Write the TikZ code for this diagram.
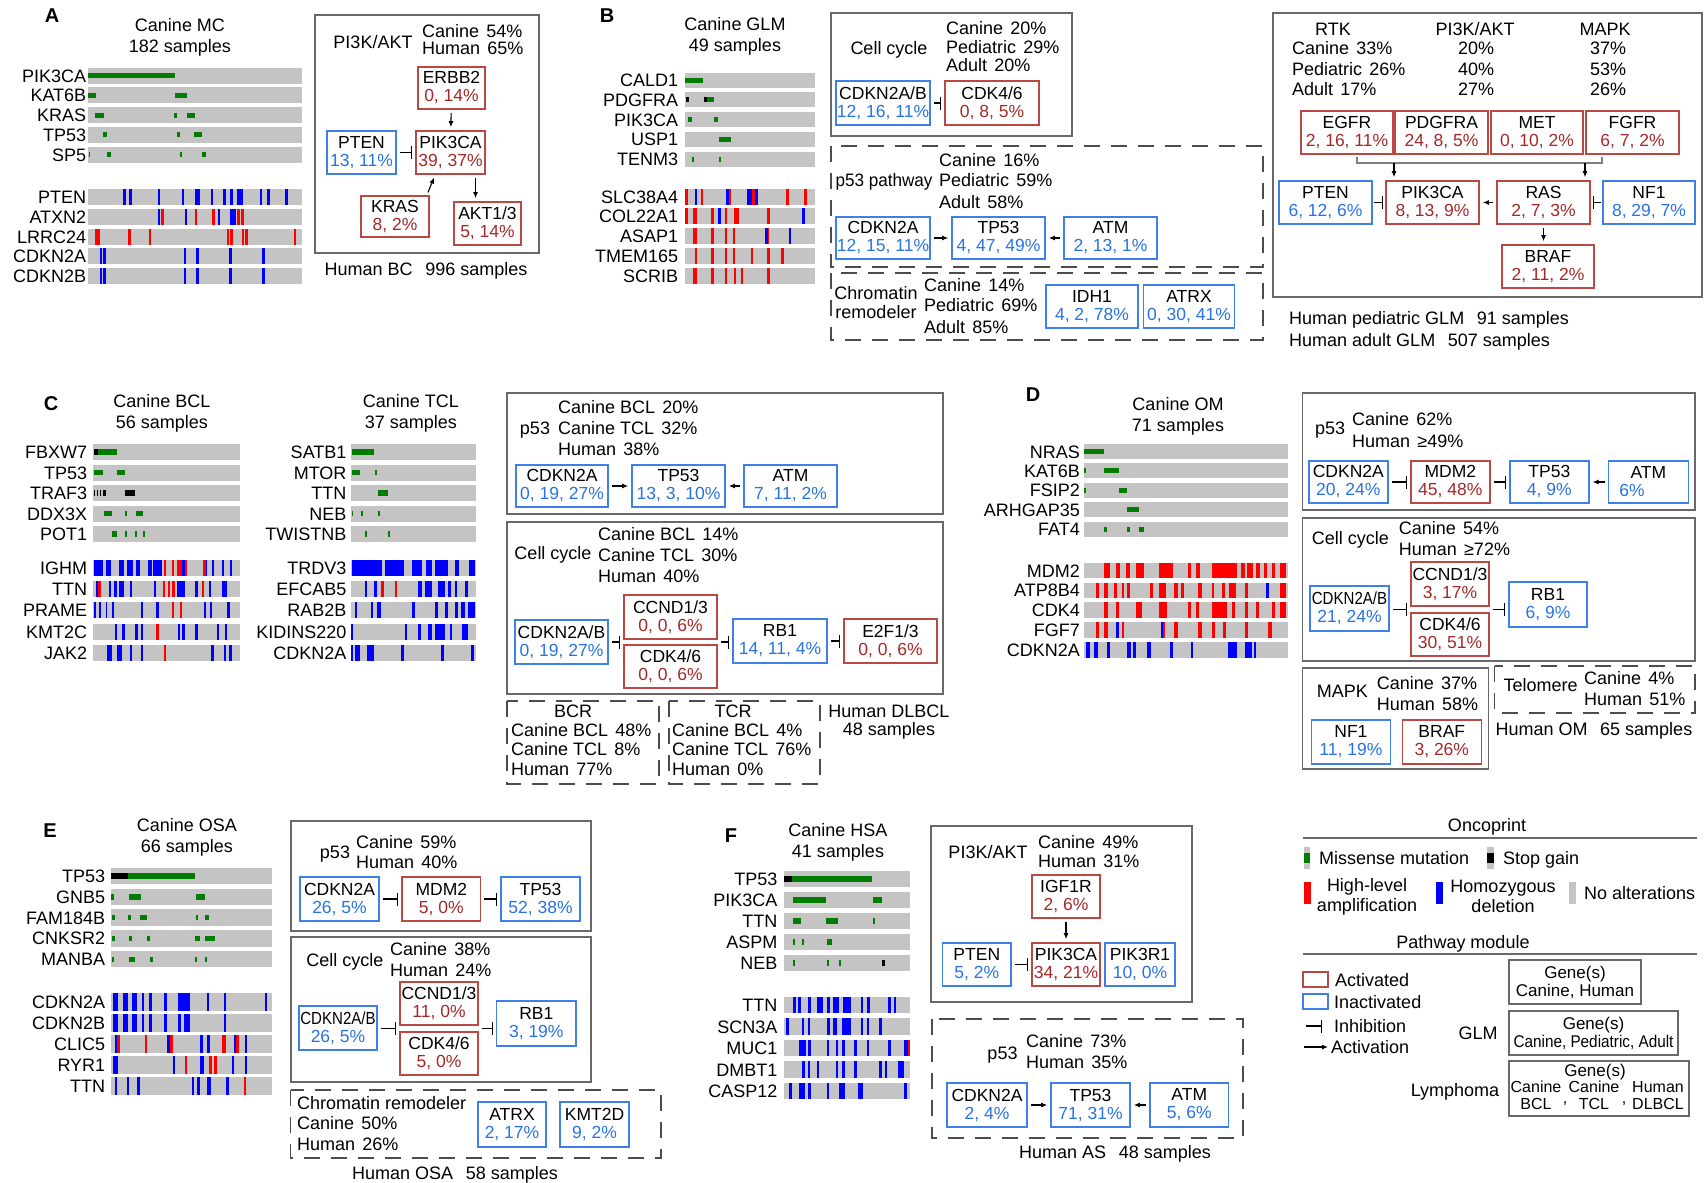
\documentclass[tikz,border=0pt]{standalone}
\usepackage{fontspec}
\setmainfont{Liberation Sans}
\usepackage{graphicx}
\usetikzlibrary{calc,arrows.meta}
\definecolor{actred}{RGB}{188,72,68}
\definecolor{acttext}{RGB}{165,40,40}
\definecolor{inblue}{RGB}{62,128,232}
\definecolor{inatext}{RGB}{40,115,228}
\definecolor{noalt}{RGB}{196,196,196}
\definecolor{misgreen}{RGB}{0,125,0}
\definecolor{framegray}{RGB}{105,105,105}
\newcommand{\actnum}[1]{\textcolor{acttext}{#1}}
\newcommand{\inanum}[1]{\textcolor{inatext}{#1}}
\newcommand{\pcgap}{\hspace{0.4em}}
\newcommand{\smpgap}{\hspace{0.7em}}
\tikzset{
	% text
	txt/.style={inner sep=0pt, text height=13pt, text depth=0pt, font=\fontsize{18}{20}\selectfont},
	stat/.style={txt, anchor=west},
	gene label/.style={txt, anchor=east},
	heading/.style={inner sep=0pt, align=center, font=\fontsize{18}{21}\selectfont},
	panel tag/.style={inner sep=0pt, font=\fontsize{20}{22}\selectfont\bfseries},
	% oncoprint cells
	no alt/.style={fill=noalt},
	mis/.style={fill=misgreen},
	stp/.style={fill=black},
	amp/.style={fill=red},
	del/.style={fill=blue},
	% pathway modules
	module/.style={draw=framegray, line width=1.4pt},
	module dashed/.style={draw=black!70, line width=1.4pt, dash pattern=on 16pt off 11pt},
	gene box/.style={line width=1.6pt, align=center, inner sep=0pt, font=\fontsize{17.5}{18}\selectfont},
	act/.style={gene box, draw=actred},
	inact/.style={gene box, draw=inblue},
	legend box/.style={gene box, draw=framegray, line width=1.2pt, font=\fontsize{17}{18}\selectfont},
	box size/.style 2 args={minimum width=#1, minimum height=#2},
	activ/.style={-{Latex[length=6pt,width=5pt]}, line width=1.1pt, shorten <=3pt, shorten >=3pt},
	inhib/.style={-{Bar[width=13pt]}, line width=1.1pt, shorten <=3pt, shorten >=3pt},
}
\begin{document}
\begin{tikzpicture}[x=1pt,y=-1pt]
	\useasboundingbox (0,0) rectangle (1705,1183);
	\fill[white] (0,0) rectangle (1705,1183);

	% ---------------- A: canine MC ----------------
	\node[panel tag] (a-tag) at (52,16) {A};
	\node[heading] (a-title) at (180,37.5) {Canine MC\\182 samples};
	\begin{scope}[x=0.3571pt]
		\foreach \g [count=\i from 0] in {PIK3CA,KAT6B,KRAS,TP53,SP5}{
			\fill[no alt] (247,67.5+19.8*\i) rectangle (845,83.5+19.8*\i);
			\node[gene label] (a-mut\i) at (242,75.5+19.8*\i) {\g};
		}
		\foreach \g [count=\i from 0] in {PTEN,ATXN2,LRRC24,CDKN2A,CDKN2B}{
			\fill[no alt] (247,189+19.8*\i) rectangle (845,205+19.8*\i);
			\node[gene label] (a-cnv\i) at (242,197+19.8*\i) {\g};
		}
		\foreach \rw/\marks in {0/{247/490/mis},1/{247/268/mis,490/525/mis},2/{265/290/mis,487/495/mis,525/545/mis},
			3/{288/300/mis,495/503/mis,543/565/mis},4/{250/253/mis,300/310/mis,503/510/mis,565/578/mis}}
			\foreach \xa/\xb/\kind in \marks
				\fill[\kind] (\xa,73+19.8*\rw) rectangle (\xb,78+19.8*\rw);
		\foreach \rw/\marks in {0/{345/352/del,362/369/del,442/449/del,509/516/del,545/552/del,552/559/del,590/597/del,625/632/del,645/652/del,665/672/del,673/680/del,727/734/del,749/756/del,797/806/del},
			1/{442/449/del,452/459/amp,517/524/del,545/552/amp,595/602/amp,610/617/del,645/652/del,653/660/del,665/672/amp,675/682/amp},
			2/{265/272/amp,273/280/amp,359/366/amp,417/424/amp,635/642/amp,645/652/amp,677/684/amp,687/694/amp,822/830/amp},
			3/{280/287/del,289/296/del,514/521/del,550/557/del,642/649/del,735/742/del},
			4/{280/287/del,289/296/del,514/521/del,550/557/del,642/649/del,735/742/del}}
			\foreach \xa/\xb/\kind in \marks
				\fill[\kind] (\xa,189+19.8*\rw) rectangle (\xb,205+19.8*\rw);
	\end{scope}
	\draw[module] (315,15) rectangle (539,253);
	\node[txt] (a-path) at (373,42) {PI3K/AKT};
	\node[stat] (a-st1) at (422,31) {Canine\pcgap 54\%};
	\node[stat] (a-st2) at (422,48) {Human\pcgap 65\%};
	\node[act, box size={67}{42}] (a-erbb2) at (451.5,88) {ERBB2\\\actnum{0, 14\%}};
	\node[inact, box size={69}{43}] (a-pten) at (361.5,152.5) {PTEN\\\inanum{13, 11\%}};
	\node[act, box size={69}{43}] (a-pik3ca) at (450.5,152.5) {PIK3CA\\\actnum{39, 37\%}};
	\node[act, box size={68}{41}] (a-kras) at (395,216.5) {KRAS\\\actnum{8, 2\%}};
	\node[act, box size={67}{43}] (a-akt) at (487.5,223.5) {AKT1/3\\\actnum{5, 14\%}};
	\draw[activ] (a-erbb2) -- (a-pik3ca);
	\draw[inhib] (a-pten) -- (a-pik3ca);
	\draw[activ] ([xshift=-3pt]a-kras.north east) -- ([xshift=20pt]a-pik3ca.south west);
	\draw[activ] ([xshift=25pt]a-pik3ca.south) -- ([xshift=25pt]a-pik3ca.south |- a-akt.north);
	\node[txt] (a-human) at (426,269) {Human BC\smpgap 996 samples};

	% ---------------- B: canine GLM ----------------
	\node[panel tag] (b-tag) at (607,16) {B};
	\node[heading] (b-title) at (735,36) {Canine GLM\\49 samples};
	\begin{scope}[xshift=560pt, x=0.4464pt]
		\foreach \g [count=\i from 0] in {CALD1,PDGFRA,PIK3CA,USP1,TENM3}{
			\fill[no alt] (280,72.5+19.8*\i) rectangle (572,87.5+19.8*\i);
			\node[gene label] (b-mut\i) at (265,80+19.8*\i) {\g};
		}
		\foreach \g [count=\i from 0] in {SLC38A4,COL22A1,ASAP1,TMEM165,SCRIB}{
			\fill[no alt] (280,188.5+19.8*\i) rectangle (572,204.5+19.8*\i);
			\node[gene label] (b-cnv\i) at (265,196.5+19.8*\i) {\g};
		}
		\foreach \rw/\marks in {0/{280/320/mis},1/{283/290/stp,322/330/stp,330/345/mis},2/{287/295/mis,345/355/mis},
			3/{357/382/mis},4/{296/300/mis,357/361/mis}}
			\foreach \xa/\xb/\kind in \marks
				\fill[\kind] (\xa,77.5+19.8*\rw) rectangle (\xb,82.5+19.8*\rw);
		\foreach \rw/\marks in {0/{280/286/amp,302/308/del,315/321/amp,372/378/del,378/382/amp,418/430/del,430/436/amp,437/443/del,507/513/amp,547/553/amp},
			1/{280/286/amp,297/307/amp,339/345/amp,355/361/del,369/375/amp,389/400/amp,464/470/amp,543/549/del},
			2/{297/307/amp,339/345/amp,369/375/amp,387/393/amp,459/465/del,465/469/amp,512/518/del},
			3/{302/308/amp,339/345/amp,369/375/amp,387/393/amp,427/433/amp,464/470/amp,495/501/amp},
			4/{297/307/amp,339/345/amp,369/375/amp,389/395/amp,405/411/amp,464/470/amp}}
			\foreach \xa/\xb/\kind in \marks
				\fill[\kind] (\xa,188.5+19.8*\rw) rectangle (\xb,204.5+19.8*\rw);
	\end{scope}
	% cell cycle
	\draw[module] (831,13) rectangle (1072,136);
	\node[txt] (b-cc) at (889,48) {Cell cycle};
	\node[stat] (b-cc1) at (946,28) {Canine\pcgap 20\%};
	\node[stat] (b-cc2) at (946,47) {Pediatric\pcgap 29\%};
	\node[stat] (b-cc3) at (946,65) {Adult\pcgap 20\%};
	\node[inact, box size={94}{44}] (b-cdkn2ab) at (883,103) {CDKN2A/B\\\inanum{12, 16, 11\%}};
	\node[act, box size={94}{44}] (b-cdk46) at (992,103) {CDK4/6\\\actnum{0, 8, 5\%}};
	\draw[inhib] (b-cdkn2ab) -- (b-cdk46);
	% p53 pathway
	\draw[module dashed] (831,146) rectangle (1263,267);
	\node[txt] (b-p53) at (884,180) {\scalebox{0.95}[1]{p53 pathway}};
	\node[stat] (b-p1) at (939,160) {Canine\pcgap 16\%};
	\node[stat] (b-p2) at (939,180) {Pediatric\pcgap 59\%};
	\node[stat] (b-p3) at (939,202) {Adult\pcgap 58\%};
	\node[inact, box size={94}{42}] (b-cdkn2a) at (883,238) {CDKN2A\\\inanum{12, 15, 11\%}};
	\node[inact, box size={93}{42}] (b-tp53) at (998.5,238) {TP53\\\inanum{4, 47, 49\%}};
	\node[inact, box size={93}{42}] (b-atm) at (1110.5,238) {ATM\\\inanum{2, 13, 1\%}};
	\draw[activ] (b-cdkn2a) -- (b-tp53);
	\draw[activ] (b-atm) -- (b-tp53);
	% chromatin remodeler
	\draw[module dashed] (831,273) rectangle (1263,340);
	\node[heading, font=\fontsize{18}{19}\selectfont] (b-chr) at (876,302.5) {Chromatin\\remodeler};
	\node[stat] (b-c1) at (924,285) {Canine\pcgap 14\%};
	\node[stat] (b-c2) at (924,305) {Pediatric\pcgap 69\%};
	\node[stat] (b-c3) at (924,327) {Adult\pcgap 85\%};
	\node[inact, box size={92}{43}] (b-idh1) at (1092,306.5) {IDH1\\\inanum{4, 2, 78\%}};
	\node[inact, box size={91}{43}] (b-atrx) at (1189,306.5) {ATRX\\\inanum{0, 30, 41\%}};

	% GLM modules
	\draw[module] (1273,13) rectangle (1702,297);
	\node[txt] (g-rtk) at (1333,29) {RTK};
	\node[stat] (g-r1) at (1292,48) {Canine\pcgap 33\%};
	\node[stat] (g-r2) at (1292,69) {Pediatric\pcgap 26\%};
	\node[stat] (g-r3) at (1292,89) {Adult\pcgap 17\%};
	\node[txt] (g-pi3k) at (1475,29) {PI3K/AKT};
	\node[txt] (g-p1) at (1476,48) {20\%};
	\node[txt] (g-p2) at (1476,69) {40\%};
	\node[txt] (g-p3) at (1476,89) {27\%};
	\node[txt] (g-mapk) at (1605,29) {MAPK};
	\node[txt] (g-m1) at (1608,48) {37\%};
	\node[txt] (g-m2) at (1608,69) {53\%};
	\node[txt] (g-m3) at (1608,89) {26\%};
	\node[act, box size={92}{43}] (g-egfr) at (1347,132.5) {EGFR\\\actnum{2, 16, 11\%}};
	\node[act, box size={93}{43}] (g-pdgfra) at (1441.5,132.5) {PDGFRA\\\actnum{24, 8, 5\%}};
	\node[act, box size={92}{43}] (g-met) at (1537,132.5) {MET\\\actnum{0, 10, 2\%}};
	\node[act, box size={93}{43}] (g-fgfr) at (1632.5,132.5) {FGFR\\\actnum{6, 7, 2\%}};
	\node[inact, box size={93}{43}] (g-pten) at (1325.5,202.5) {PTEN\\\inanum{6, 12, 6\%}};
	\node[act, box size={93}{43}] (g-pik3ca) at (1432.5,202.5) {PIK3CA\\\actnum{8, 13, 9\%}};
	\node[act, box size={93}{43}] (g-ras) at (1543.5,202.5) {RAS\\\actnum{2, 7, 3\%}};
	\node[inact, box size={92}{43}] (g-nf1) at (1649,202.5) {NF1\\\inanum{8, 29, 7\%}};
	\node[act, box size={92}{43}] (g-braf) at (1548,266.5) {BRAF\\\actnum{2, 11, 2\%}};
	\coordinate (g-brl) at (1357,157);
	\coordinate (g-brr) at (1602,157);
	\coordinate (g-jl) at (1394,163);
	\coordinate (g-jr) at (1585,163);
	\draw[gray, line width=1.2pt] (g-brl) -- ++(0,6) -| (g-brr);
	\draw[activ, shorten <=0pt] (g-jl) -- (g-jl |- g-pik3ca.north);
	\draw[activ, shorten <=0pt] (g-jr) -- (g-jr |- g-ras.north);
	\draw[inhib, shorten <=1pt, shorten >=2pt] (g-pten) -- (g-pik3ca);
	\draw[activ] (g-ras) -- (g-pik3ca);
	\draw[inhib, shorten <=1pt, shorten >=2pt] (g-nf1) -- (g-ras);
	\draw[activ] (g-ras.south) -- (g-ras.south |- g-braf.north);
	\node[stat] (g-ped) at (1289,318) {Human pediatric GLM\smpgap 91 samples};
	\node[stat] (g-adu) at (1289,340) {Human adult GLM\smpgap 507 samples};

	% ---------------- C: canine lymphoma ----------------
	\node[panel tag] (c-tag) at (51,404) {C};
	\node[heading] (c-btitle) at (162,413.5) {Canine BCL\\56 samples};
	\node[heading] (c-ttitle) at (411,413.5) {Canine TCL\\37 samples};
	\begin{scope}[x=0.3333pt]
		\foreach \g [count=\i from 0] in {FBXW7,TP53,TRAF3,DDX3X,POT1}{
			\fill[no alt] (280,444+20.5*\i) rectangle (720,460+20.5*\i);
			\node[gene label] (c-bmut\i) at (262,452+20.5*\i) {\g};
		}
		\foreach \g [count=\i from 0] in {IGHM,TTN,PRAME,KMT2C,JAK2}{
			\fill[no alt] (280,560+21.2*\i) rectangle (720,576+21.2*\i);
			\node[gene label] (c-bcnv\i) at (262,568+21.2*\i) {\g};
		}
		\foreach \g [count=\i from 0] in {SATB1,MTOR,TTN,NEB,TWISTNB}{
			\fill[no alt] (1052,444+20.5*\i) rectangle (1427,460+20.5*\i);
			\node[gene label] (c-tmut\i) at (1040,452+20.5*\i) {\g};
		}
		\foreach \g [count=\i from 0] in {TRDV3,EFCAB5,RAB2B,KIDINS220,CDKN2A}{
			\fill[no alt] (1052,560+21.2*\i) rectangle (1427,576+21.2*\i);
			\node[gene label] (c-tcnv\i) at (1040,568+21.2*\i) {\g};
		}
		\foreach \rw/\marks in {0/{282/295/stp,295/350/mis},1/{282/310/mis,352/375/mis},
			2/{282/286/stp,291/295/stp,300/304/stp,310/318/stp,375/405/stp},
			3/{312/335/mis,375/381/mis,407/430/mis},4/{337/350/mis,375/380/mis,405/410/mis,430/435/mis},
			0/{1055/1122/mis},1/{1055/1080/mis,1125/1131/mis},2/{1133/1163/mis},
			3/{1055/1060/mis,1082/1088/mis,1133/1140/mis},4/{1094/1100/mis,1163/1170/mis}}
			\foreach \xa/\xb/\kind in \marks
				\fill[\kind] (\xa,449.3+20.5*\rw) rectangle (\xb,454.7+20.5*\rw);
		\foreach \rw/\marks in {0/{282/310/del,318/332/del,358/372/del,380/400/del,407/420/del,445/455/del,460/485/del,492/499/amp,516/523/amp,532/547/amp,547/555/del,555/562/amp,610/617/amp,617/622/del,635/642/del,665/672/del,690/697/del},
			1/{287/297/del,295/302/amp,326/333/del,341/350/del,358/373/del,390/397/del,461/468/del,489/496/amp,504/511/amp,517/524/amp,532/555/del,586/593/del,606/613/amp,626/633/del,665/680/del},
			2/{282/287/del,296/302/del,317/322/del,336/343/del,424/430/del,469/476/del,516/523/amp,539/547/amp,611/618/del,629/636/del,682/689/del},
			3/{344/351/del,367/374/del,406/413/del,422/429/del,469/476/amp,534/541/del,547/554/del,586/593/del,651/658/del,674/681/del},
			4/{320/335/del,352/366/del,390/397/del,422/429/del,492/499/amp,634/641/del,671/678/del,688/695/del},
			0/{1055/1145/del,1155/1213/del,1235/1265/del,1277/1295/del,1305/1345/del,1366/1376/del,1407/1425/del},
			1/{1094/1101/del,1122/1130/del,1144/1152/amp,1184/1191/amp,1254/1266/del,1274/1295/del,1315/1335/del,1344/1352/del,1364/1371/del,1396/1405/del},
			2/{1064/1071/del,1112/1120/del,1132/1143/del,1236/1244/del,1306/1314/del,1334/1343/del,1364/1373/del,1384/1395/del,1405/1425/del},
			3/{1053/1060/del,1214/1222/del,1254/1262/del,1284/1295/del,1305/1335/del,1349/1357/del,1385/1405/del},
			4/{1053/1060/del,1064/1081/del,1102/1123/del,1204/1213/del,1324/1333/del,1414/1422/del}}
			\foreach \xa/\xb/\kind in \marks
				\fill[\kind] (\xa,560+21.2*\rw) rectangle (\xb,576+21.2*\rw);
	\end{scope}
	% p53
	\draw[module] (507,393) rectangle (943,514);
	\node[txt] (c-p53) at (535,428) {p53};
	\node[stat] (c-p1) at (558,407) {Canine BCL\pcgap 20\%};
	\node[stat] (c-p2) at (558,428) {Canine TCL\pcgap 32\%};
	\node[stat] (c-p3) at (558,449) {Human\pcgap 38\%};
	\node[inact, box size={92}{42}] (c-cdkn2a) at (562,486) {CDKN2A\\\inanum{0, 19, 27\%}};
	\node[inact, box size={93}{42}] (c-tp53) at (678.5,486) {TP53\\\inanum{13, 3, 10\%}};
	\node[inact, box size={93}{42}] (c-atm) at (790.5,486) {ATM\\\inanum{7, 11, 2\%}};
	\draw[activ] (c-cdkn2a) -- (c-tp53);
	\draw[activ] (c-atm) -- (c-tp53);
	% cell cycle
	\draw[module] (507,522) rectangle (943,694);
	\node[txt] (c-cc) at (553,553) {Cell cycle};
	\node[stat] (c-cc1) at (598,534) {Canine BCL\pcgap 14\%};
	\node[stat] (c-cc2) at (598,555) {Canine TCL\pcgap 30\%};
	\node[stat] (c-cc3) at (598,576) {Human\pcgap 40\%};
	\node[inact, box size={93}{44}] (c-cdkn2ab) at (561.5,642) {CDKN2A/B\\\inanum{0, 19, 27\%}};
	\node[act, box size={93}{44}] (c-ccnd) at (670.5,617) {CCND1/3\\\actnum{0, 0, 6\%}};
	\node[act, box size={93}{43}] (c-cdk46) at (670.5,666.5) {CDK4/6\\\actnum{0, 0, 6\%}};
	\node[inact, box size={94}{44}] (c-rb1) at (780,641) {RB1\\\inanum{14, 11, 4\%}};
	\node[act, box size={93}{44}] (c-e2f) at (890.5,641) {E2F1/3\\\actnum{0, 0, 6\%}};
	\coordinate (c-grp-w) at ($(c-ccnd.south west)!0.5!(c-cdk46.north west)$);
	\coordinate (c-grp-e) at ($(c-ccnd.south east)!0.5!(c-cdk46.north east)$);
	\draw[inhib] (c-cdkn2ab.east |- c-grp-w) -- (c-grp-w);
	\draw[inhib] (c-grp-e) -- (c-grp-e -| c-rb1.west);
	\draw[inhib] (c-rb1) -- (c-e2f);
	% BCR / TCR
	\draw[module dashed] (507,701) rectangle (659,784);
	\node[txt] (c-bcr) at (573,711) {BCR};
	\node[stat] (c-b1) at (511,730) {Canine BCL\pcgap 48\%};
	\node[stat] (c-b2) at (511,749) {Canine TCL\pcgap 8\%};
	\node[stat] (c-b3) at (511,769) {Human\pcgap 77\%};
	\draw[module dashed] (669,701) rectangle (820,784);
	\node[txt] (c-tcr) at (733,711) {TCR};
	\node[stat] (c-t1) at (672,730) {Canine BCL\pcgap 4\%};
	\node[stat] (c-t2) at (672,749) {Canine TCL\pcgap 76\%};
	\node[stat] (c-t3) at (672,769) {Human\pcgap 0\%};
	\node[heading, font=\fontsize{18}{18}\selectfont] (c-human) at (889,722) {Human DLBCL\\48 samples};

	% ---------------- D: canine OM ----------------
	\node[panel tag] (d-tag) at (1033,395) {D};
	\node[heading] (d-title) at (1178,416.5) {Canine OM\\71 samples};
	\begin{scope}[xshift=1010pt, x=0.4433pt]
		\foreach \g [count=\i from 0] in {NRAS,KAT6B,FSIP2,ARHGAP35,FAT4}{
			\fill[no alt] (168,444+19.4*\i) rectangle (628,459+19.4*\i);
			\node[gene label] (d-mut\i) at (158,451.5+19.4*\i) {\g};
		}
		\foreach \g [count=\i from 0] in {MDM2,ATP8B4,CDK4,FGF7,CDKN2A}{
			\fill[no alt] (168,562.7+19.8*\i) rectangle (628,578.3+19.8*\i);
			\node[gene label] (d-cnv\i) at (158,570.5+19.8*\i) {\g};
		}
		\foreach \rw/\marks in {0/{168/212/mis},1/{168/172/mis,213/245/mis},2/{168/172/mis,245/265/mis},
			3/{265/290/mis},4/{213/218/mis,265/270/mis,290/303/mis}}
			\foreach \xa/\xb/\kind in \marks
				\fill[\kind] (\xa,449+19.4*\rw) rectangle (\xb,454+19.4*\rw);
		\foreach \rw/\marks in {0/{213/225/amp,240/248/amp,262/270/amp,285/303/amp,335/368/amp,402/408/amp,420/428/amp,455/512/amp,520/530/amp,535/548/amp,555/565/amp,573/580/amp,590/597/amp,610/622/amp},
			1/{193/200/amp,213/220/amp,235/241/amp,252/258/amp,265/271/amp,315/322/amp,335/352/amp,370/378/amp,385/392/amp,423/432/amp,455/461/amp,478/485/amp,493/510/amp,530/537/amp,578/585/del,610/622/amp},
			2/{213/220/amp,240/245/amp,285/297/amp,335/355/amp,402/408/amp,420/427/amp,455/490/amp,500/507/amp,530/537/amp,555/562/amp,590/597/amp,610/622/amp},
			3/{193/200/amp,213/220/amp,240/246/del,252/258/amp,340/346/del,346/350/amp,370/378/amp,423/432/amp,455/462/amp,480/487/amp,530/537/amp,583/590/amp},
			4/{172/180/del,190/198/del,218/225/del,265/272/del,278/285/del,310/317/del,362/368/del,408/413/del,492/512/del,530/545/del,550/556/del}}
			\foreach \xa/\xb/\kind in \marks
				\fill[\kind] (\xa,562.7+19.8*\rw) rectangle (\xb,578.3+19.8*\rw);
	\end{scope}
	% p53
	\draw[module] (1302.6,393) rectangle (1694.8,510);
	\node[txt] (d-p53) at (1330,428) {p53};
	\node[stat] (d-p1) at (1352,419) {Canine\pcgap 62\%};
	\node[stat] (d-p2) at (1352,441) {Human\pcgap ≥49\%};
	\node[inact, box size={79}{42}] (d-cdkn2a) at (1348.3,482) {CDKN2A\\\inanum{20, 24\%}};
	\node[act, box size={79}{42}] (d-mdm2) at (1450.3,482) {MDM2\\\actnum{45, 48\%}};
	\node[inact, box size={79}{42}] (d-tp53) at (1549.3,482) {TP53\\\inanum{4, 9\%}};
	\node[inact, box size={80}{42}, align=left] (d-atm) at (1648.3,482) {\makebox[58pt][c]{ATM}\\\inanum{6\%}};
	\draw[inhib] (d-cdkn2a) -- (d-mdm2);
	\draw[inhib] (d-mdm2) -- (d-tp53);
	\draw[activ] (d-atm) -- (d-tp53);
	% cell cycle
	\draw[module] (1302.6,518) rectangle (1694.8,661);
	\node[txt] (d-cc) at (1350.4,538) {Cell cycle};
	\node[stat] (d-cc1) at (1398.7,528) {Canine\pcgap 54\%};
	\node[stat] (d-cc2) at (1398.7,549) {Human\pcgap ≥72\%};
	\node[inact, box size={79}{45}] (d-cdkn2ab) at (1349.5,608.5) {\scalebox{0.86}[1]{CDKN2A/B}\\\inanum{21, 24\%}};
	\node[act, box size={78}{44}] (d-ccnd) at (1450,584) {CCND1/3\\\actnum{3, 17\%}};
	\node[act, box size={78}{43}] (d-cdk46) at (1450,634.5) {CDK4/6\\\actnum{30, 51\%}};
	\node[inact, box size={78}{45}] (d-rb1) at (1548,604.5) {RB1\\\inanum{6, 9\%}};
	\coordinate (d-grp-w) at ($(d-ccnd.south west)!0.5!(d-cdk46.north west)$);
	\coordinate (d-grp-e) at ($(d-ccnd.south east)!0.5!(d-cdk46.north east)$);
	\draw[inhib] (d-cdkn2ab.east |- d-grp-w) -- (d-grp-w);
	\draw[inhib] (d-grp-e) -- (d-grp-e -| d-rb1.west);
	% MAPK
	\draw[module] (1302.6,668) rectangle (1488.7,769);
	\node[txt] (d-mapk) at (1342.4,691) {MAPK};
	\node[stat] (d-m1) at (1376.6,683) {Canine\pcgap 37\%};
	\node[stat] (d-m2) at (1376.6,704) {Human\pcgap 58\%};
	\node[inact, box size={79}{44}] (d-nf1) at (1350.9,742) {NF1\\\inanum{11, 19\%}};
	\node[act, box size={79}{44}] (d-braf) at (1441.8,742) {BRAF\\\actnum{3, 26\%}};
	% telomere
	\draw[module dashed] (1494.5,666) rectangle (1694.8,713);
	\node[txt] (d-tel) at (1540.6,685) {Telomere};
	\node[stat] (d-t1) at (1584,678) {Canine\pcgap 4\%};
	\node[stat] (d-t2) at (1584,699) {Human\pcgap 51\%};
	\node[stat] (d-human) at (1495.4,729) {Human OM\smpgap 65 samples};

	% ---------------- E: canine OSA ----------------
	\node[panel tag] (e-tag) at (50,831) {E};
	\node[heading] (e-title) at (187,837.5) {Canine OSA\\66 samples};
	\begin{scope}[x=0.4337pt]
		\foreach \g [count=\i from 0] in {TP53,GNB5,FAM184B,CNKSR2,MANBA}{
			\fill[no alt] (255,867.8+20.8*\i) rectangle (627,884.2+20.8*\i);
			\node[gene label] (e-mut\i) at (243,876+20.8*\i) {\g};
		}
		\foreach \g [count=\i from 0] in {CDKN2A,CDKN2B,CLIC5,RYR1,TTN}{
			\fill[no alt] (255,993.3+21*\i) rectangle (627,1010.7+21*\i);
			\node[gene label] (e-cnv\i) at (243,1002+21*\i) {\g};
		}
		\foreach \rw/\marks in {0/{257/295/stp,295/450/mis},1/{257/262/mis,298/325/mis,452/473/mis},
			2/{258/265/mis,295/303/mis,322/340/mis,452/457/mis,473/483/mis},
			3/{258/265/mis,297/305/mis,340/345/mis,450/460/mis,473/495/mis},
			4/{258/262/mis,297/312/mis,347/352/mis,450/455/mis,473/478/mis}}
			\foreach \xa/\xb/\kind in \marks
				\fill[\kind] (\xa,873.3+20.8*\rw) rectangle (\xb,878.7+20.8*\rw);
		\foreach \rw/\marks in {0/{260/272/del,283/295/del,305/317/del,327/333/del,343/350/del,378/385/del,410/437/del,477/483/del,517/522/del,610/615/del},
			1/{260/272/del,283/295/del,305/317/del,327/333/del,343/350/del,378/385/del,410/418/del,425/437/del,517/522/del},
			2/{265/270/del,270/277/amp,335/340/amp,385/392/del,392/398/amp,462/467/del,478/485/del,512/522/amp,540/545/del,545/550/amp,565/570/del},
			3/{260/272/del,398/403/del,427/432/amp,462/470/del,483/488/amp,493/500/amp,535/540/del,565/570/del},
			4/{265/270/del,293/298/del,317/322/del,443/448/del,455/460/del,477/487/del,522/527/del,563/568/amp}}
			\foreach \xa/\xb/\kind in \marks
				\fill[\kind] (\xa,993.3+21*\rw) rectangle (\xb,1010.7+21*\rw);
	\end{scope}
	% p53
	\draw[module] (291,821) rectangle (591,931);
	\node[txt] (e-p53) at (335,852) {p53};
	\node[stat] (e-p1) at (356,842) {Canine\pcgap 59\%};
	\node[stat] (e-p2) at (356,862) {Human\pcgap 40\%};
	\node[inact, box size={79}{44}] (e-cdkn2a) at (339.5,899) {CDKN2A\\\inanum{26, 5\%}};
	\node[act, box size={78.5}{44}] (e-mdm2) at (441.3,899) {MDM2\\\actnum{5, 0\%}};
	\node[inact, box size={79}{44}] (e-tp53) at (540.5,899) {TP53\\\inanum{52, 38\%}};
	\draw[inhib] (e-cdkn2a) -- (e-mdm2);
	\draw[inhib] (e-mdm2) -- (e-tp53);
	% cell cycle
	\draw[module] (291,937) rectangle (591,1082);
	\node[txt] (e-cc) at (345,960) {Cell cycle};
	\node[stat] (e-cc1) at (390,949) {Canine\pcgap 38\%};
	\node[stat] (e-cc2) at (390,970) {Human\pcgap 24\%};
	\node[inact, box size={78}{44}] (e-cdkn2ab) at (338,1028) {\scalebox{0.86}[1]{CDKN2A/B}\\\inanum{26, 5\%}};
	\node[act, box size={78}{43}] (e-ccnd) at (439,1003.5) {CCND1/3\\\actnum{11, 0\%}};
	\node[act, box size={78}{43}] (e-cdk46) at (439,1053.5) {CDK4/6\\\actnum{5, 0\%}};
	\node[inact, box size={79.5}{45}] (e-rb1) at (536.3,1023.5) {RB1\\\inanum{3, 19\%}};
	\coordinate (e-grp-w) at ($(e-ccnd.south west)!0.5!(e-cdk46.north west)$);
	\coordinate (e-grp-e) at ($(e-ccnd.south east)!0.5!(e-cdk46.north east)$);
	\draw[inhib] (e-cdkn2ab.east |- e-grp-w) -- (e-grp-w);
	\draw[inhib] (e-grp-e) -- (e-grp-e -| e-rb1.west);
	% chromatin remodeler
	\draw[module dashed] (290.5,1090) rectangle (661,1158);
	\node[stat] (e-chr) at (297,1103) {Chromatin remodeler};
	\node[stat] (e-c1) at (297,1123) {Canine\pcgap 50\%};
	\node[stat] (e-c2) at (297,1144) {Human\pcgap 26\%};
	\node[inact, box size={68}{45}] (e-atrx) at (512,1124.5) {ATRX\\\inanum{2, 17\%}};
	\node[inact, box size={69}{45}] (e-kmt2d) at (594.5,1124.5) {KMT2D\\\inanum{9, 2\%}};
	\node[txt] (e-human) at (455,1173) {Human OSA\smpgap 58 samples};

	% ---------------- F: canine HSA ----------------
	\node[panel tag] (f-tag) at (731,836) {F};
	\node[heading] (f-title) at (838,842) {Canine HSA\\41 samples};
	\begin{scope}[xshift=690pt, x=0.3571pt]
		\foreach \g [count=\i from 0] in {TP53,PIK3CA,TTN,ASPM,NEB}{
			\fill[no alt] (262,871+21*\i) rectangle (615,887+21*\i);
			\node[gene label] (f-mut\i) at (245,879+21*\i) {\g};
		}
		\foreach \g [count=\i from 0] in {TTN,SCN3A,MUC1,DMBT1,CASP12}{
			\fill[no alt] (262,996.7+21.5*\i) rectangle (615,1013.3+21.5*\i);
			\node[gene label] (f-cnv\i) at (245,1005+21.5*\i) {\g};
		}
		\foreach \rw/\marks in {0/{262/285/stp,285/510/mis},1/{288/380/mis,512/537/mis},2/{288/312/mis,382/415/mis,512/518/mis},
			3/{288/295/mis,313/320/mis,385/398/mis},4/{288/293/mis,383/388/mis,417/423/mis,538/545/stp}}
			\foreach \xa/\xb/\kind in \marks
				\fill[\kind] (\xa,876.3+21*\rw) rectangle (\xb,881.7+21*\rw);
		\foreach \rw/\marks in {0/{288/298/del,303/310/del,330/340/del,357/373/del,385/393/del,400/418/del,428/450/del,478/485/del,495/503/del,555/562/del,570/578/del},
			1/{270/277/del,313/320/del,330/337/del,383/393/del,400/413/del,427/450/del,478/485/del,495/502/del,530/537/del},
			2/{305/325/del,330/340/del,383/390/del,408/415/del,425/433/del,460/467/del,495/502/del,555/562/del,600/610/del,610/615/amp},
			3/{313/322/del,330/337/del,355/362/del,408/415/del,427/433/del,460/467/del,530/537/del,545/552/del,582/598/del},
			4/{277/285/del,305/323/del,330/338/del,383/390/del,418/433/del,470/485/del,598/607/del}}
			\foreach \xa/\xb/\kind in \marks
				\fill[\kind] (\xa,996.7+21.5*\rw) rectangle (\xb,1013.3+21.5*\rw);
	\end{scope}
	% PI3K/AKT
	\draw[module] (931,826) rectangle (1192,1002);
	\node[txt] (f-pi3k) at (988,852) {PI3K/AKT};
	\node[stat] (f-k1) at (1038,842) {Canine\pcgap 49\%};
	\node[stat] (f-k2) at (1038,861) {Human\pcgap 31\%};
	\node[act, box size={68}{43}] (f-igf1r) at (1066,896.5) {IGF1R\\\actnum{2, 6\%}};
	\node[inact, box size={68.5}{43}] (f-pten) at (976.8,964.5) {PTEN\\\inanum{5, 2\%}};
	\node[act, box size={68}{43}] (f-pik3ca) at (1066,964.5) {PIK3CA\\\actnum{34, 21\%}};
	\node[inact, box size={70}{43}] (f-pik3r1) at (1140,964.5) {PIK3R1\\\inanum{10, 0\%}};
	\draw[activ] (f-igf1r) -- (f-pik3ca);
	\draw[inhib] (f-pten) -- (f-pik3ca);
	% p53
	\draw[module dashed] (932,1019) rectangle (1243,1138);
	\node[txt] (f-p53) at (1002.5,1053) {p53};
	\node[stat] (f-p1) at (1026,1041) {Canine\pcgap 73\%};
	\node[stat] (f-p2) at (1026,1062) {Human\pcgap 35\%};
	\node[inact, box size={80}{44}] (f-cdkn2a) at (987,1105) {CDKN2A\\\inanum{2, 4\%}};
	\node[inact, box size={79}{44}] (f-tp53) at (1090.5,1105) {TP53\\\inanum{71, 31\%}};
	\node[inact, box size={78.6}{44}] (f-atm) at (1189.3,1105) {ATM\\\inanum{5, 6\%}};
	\draw[activ] (f-cdkn2a) -- (f-tp53);
	\draw[activ] (f-atm) -- (f-tp53);
	\node[txt] (f-human) at (1115,1152) {Human AS\smpgap 48 samples};

	% ---------------- legend ----------------
	\node[txt] (l-onco) at (1487,825) {Oncoprint};
	\coordinate (l-r1a) at (1303,838);
	\coordinate (l-r1b) at (1697,838);
	\draw[framegray, line width=1.2pt] (l-r1a) -- (l-r1b);
	\fill[no alt] (1304,847) rectangle (1310,869);
	\fill[mis] (1304,853) rectangle (1310,863);
	\node[stat] (l-mis) at (1319,858) {Missense mutation};
	\fill[no alt] (1487,847) rectangle (1494,869);
	\fill[stp] (1487,853) rectangle (1494,863);
	\node[stat] (l-stp) at (1503,858) {Stop gain};
	\fill[amp] (1304,882) rectangle (1311,904);
	\node[heading, font=\fontsize{18}{20}\selectfont] (l-amp) at (1367,897) {High-level\\amplification};
	\fill[del] (1436,882) rectangle (1443,904);
	\node[heading, font=\fontsize{18}{20}\selectfont] (l-del) at (1503,896.5) {Homozygous\\deletion};
	\fill[no alt] (1569,882) rectangle (1576,904);
	\node[stat] (l-none) at (1584,893) {No alterations};
	\node[txt] (l-path) at (1463,942) {Pathway module};
	\coordinate (l-r2a) at (1303,954);
	\coordinate (l-r2b) at (1697,954);
	\draw[framegray, line width=1.2pt] (l-r2a) -- (l-r2b);
	\node[act, box size={25}{15}] (l-actbox) at (1315.5,979.5) {};
	\node[stat] (l-act) at (1335,980) {Activated};
	\node[inact, box size={25}{15}] (l-inactbox) at (1315.5,1001.5) {};
	\node[stat] (l-inact) at (1334,1002) {Inactivated};
	\coordinate (l-ia) at (1306,1026);
	\coordinate (l-ib) at (1322,1026);
	\draw[inhib, shorten <=0pt, shorten >=0pt] (l-ia) -- (l-ib);
	\node[stat] (l-inh) at (1334,1026) {Inhibition};
	\coordinate (l-aa) at (1304,1047);
	\coordinate (l-ab) at (1328,1047);
	\draw[activ, shorten <=0pt, shorten >=0pt] (l-aa) -- (l-ab);
	\node[stat] (l-acti) at (1331,1047) {Activation};
	\node[legend box, box size={132}{44}] (l-std) at (1575,982) {Gene(s)\\Canine, Human};
	\node[txt] (l-glm) at (1478,1033) {GLM};
	\node[legend box, box size={169}{44}] (l-glmbox) at (1593.5,1033) {Gene(s)\\\scalebox{0.9}[1]{Canine, Pediatric, Adult}};
	\node[txt] (l-lym) at (1455,1090) {Lymphoma};
	\node[legend box, box size={180}{55}] (l-lymbox) at (1599,1088.5) {};
	\node[txt, font=\fontsize{17}{18}\selectfont] (l-gene) at (1595,1070) {Gene(s)};
	\node[heading, font=\fontsize{16}{17}\selectfont] (l-bcl) at (1536,1095.5) {Canine\\BCL};
	\node[heading, font=\fontsize{16}{17}\selectfont] (l-tcl) at (1594,1095.5) {Canine\\TCL};
	\node[heading, font=\fontsize{16}{17}\selectfont] (l-dlbcl) at (1658,1095.5) {Human\\DLBCL};
	\node[txt, font=\fontsize{16}{17}\selectfont] (l-c1) at (1565,1097) {,};
	\node[txt, font=\fontsize{16}{17}\selectfont] (l-c2) at (1624,1097) {,};
\end{tikzpicture}
\end{document}
